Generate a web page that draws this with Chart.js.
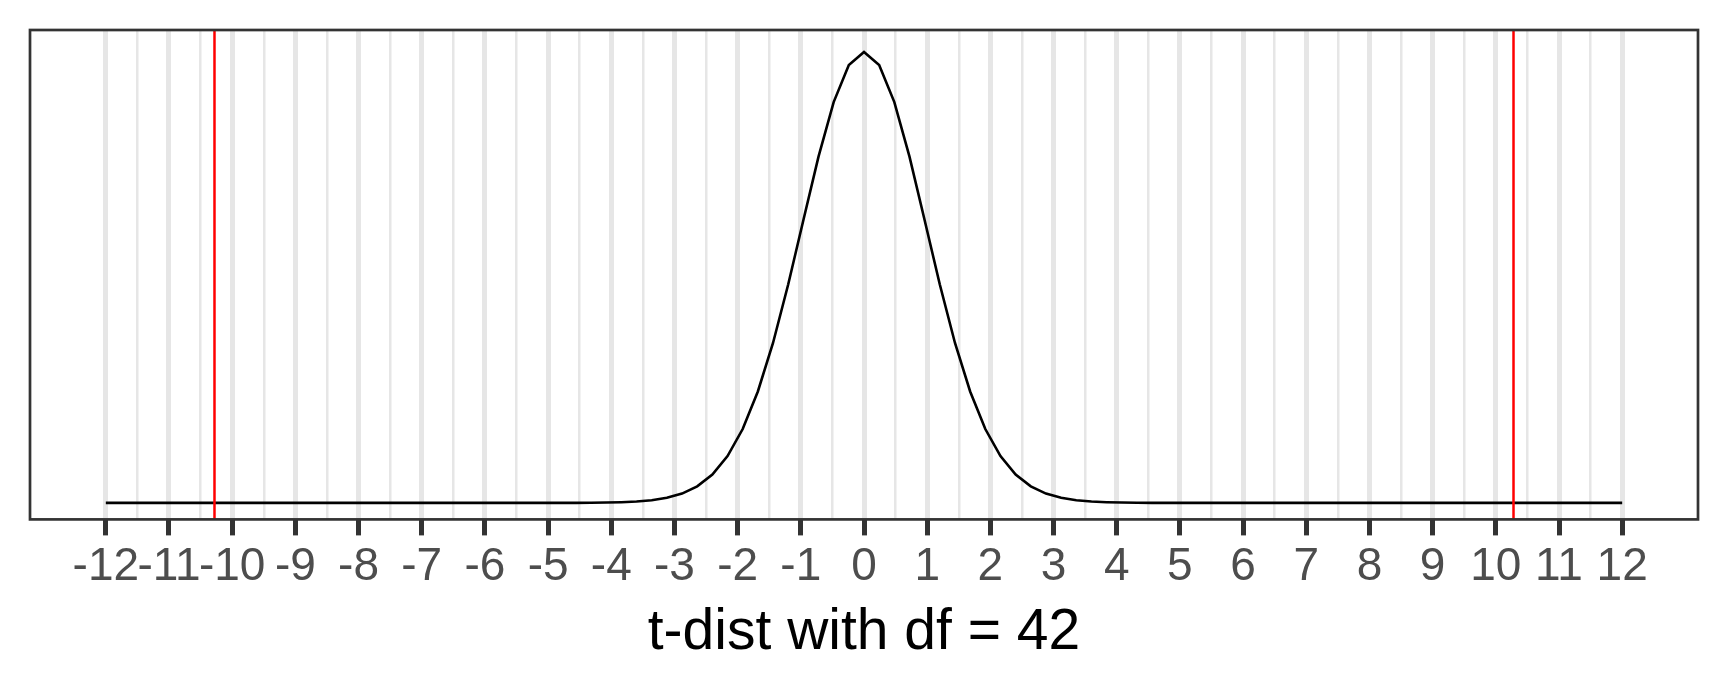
<!DOCTYPE html>
<html>
<head>
<meta charset="utf-8">
<script src="https://cdn.jsdelivr.net/npm/chart.js@4.4.1/dist/chart.umd.min.js"></script>
<style>
  body { margin: 0; background: #fff; }
</style>
</head>
<body>
<canvas id="t-chart" width="1728" height="691"></canvas>
<script>
// x positions of the density curve (101 points, -12..12)
var xValues = [
  -12, -11.76, -11.52, -11.28, -11.04, -10.8, -10.56, -10.32, -10.08, -9.84,
  -9.6, -9.36, -9.12, -8.88, -8.64, -8.4, -8.16, -7.92, -7.68, -7.44,
  -7.2, -6.96, -6.72, -6.48, -6.24, -6, -5.76, -5.52, -5.28, -5.04,
  -4.8, -4.56, -4.32, -4.08, -3.84, -3.6, -3.36, -3.12, -2.88, -2.64,
  -2.4, -2.16, -1.92, -1.68, -1.44, -1.2, -0.96, -0.72, -0.48, -0.24,
  0,
  0.24, 0.48, 0.72, 0.96, 1.2, 1.44, 1.68, 1.92, 2.16, 2.4,
  2.64, 2.88, 3.12, 3.36, 3.6, 3.84, 4.08, 4.32, 4.56, 4.8,
  5.04, 5.28, 5.52, 5.76, 6, 6.24, 6.48, 6.72, 6.96, 7.2,
  7.44, 7.68, 7.92, 8.16, 8.4, 8.64, 8.88, 9.12, 9.36, 9.6,
  9.84, 10.08, 10.32, 10.56, 10.8, 11.04, 11.28, 11.52, 11.76, 12
];

// density
var density = [
  0, 0, 0, 0, 0, 0, 0, 0, 0, 0,
  0, 0, 0, 0, 0, 0, 0, 0, 0, 0,
  0, 0, 0, 0, 0.0000003, 0.0000007, 0.0000015, 0.0000032, 0.000007, 0.0000152,
  0.0000327, 0.0000697, 0.000146, 0.000303, 0.000615, 0.00122, 0.00237, 0.00449, 0.00823, 0.0146,
  0.0250, 0.0412, 0.0650, 0.0980, 0.1407, 0.1921, 0.2487, 0.3046, 0.3526, 0.3851,
  0.3966,
  0.3851, 0.3526, 0.3046, 0.2487, 0.1921, 0.1407, 0.0980, 0.0650, 0.0412, 0.0250,
  0.0146, 0.00823, 0.00449, 0.00237, 0.00122, 0.000615, 0.000303, 0.000146, 0.0000697, 0.0000327,
  0.0000152, 0.000007, 0.0000032, 0.0000015, 0.0000007, 0.0000003, 0, 0, 0, 0,
  0, 0, 0, 0, 0, 0, 0, 0, 0, 0,
  0, 0, 0, 0, 0, 0, 0, 0, 0, 0
];

// red cut-off lines
var critValues = [-10.28, 10.28];

// axis ticks
var majorTicks = [-12, -11, -10, -9, -8, -7, -6, -5, -4, -3, -2, -1, 0, 1, 2, 3, 4, 5, 6, 7, 8, 9, 10, 11, 12];
var minorTicks = [-11.5, -10.5, -9.5, -8.5, -7.5, -6.5, -5.5, -4.5, -3.5, -2.5, -1.5, -0.5,
                  0.5, 1.5, 2.5, 3.5, 4.5, 5.5, 6.5, 7.5, 8.5, 9.5, 10.5, 11.5];

var xMin = -13.2, xMax = 13.2;
var yMin = -0.0145, yMax = 0.416;

var curvePoints = xValues.map(function (x, i) { return { x: x, y: density[i] }; });

var datasets = critValues.map(function (v) {
  return {
    data: [{ x: v, y: yMin }, { x: v, y: yMax }],
    borderColor: '#FF0000',
    borderWidth: 2.5,
    pointRadius: 0,
    order: 0
  };
});
datasets.push({
  data: curvePoints,
  borderColor: '#000000',
  borderWidth: 2.6,
  pointRadius: 0,
  tension: 0,
  order: 1
});

function isMajor(v) { return majorTicks.indexOf(v) !== -1; }

// panel border drawn on top
var panelBorder = {
  id: 'panelBorder',
  afterDraw: function (chart) {
    var a = chart.chartArea, c = chart.ctx;
    c.save();
    c.strokeStyle = '#333333';
    c.lineWidth = 2.7;
    c.strokeRect(a.left, a.top, a.right - a.left, a.bottom - a.top);
    c.restore();
  }
};

var ctx = document.getElementById('t-chart').getContext('2d');
var tChart = new Chart(ctx, {
  type: 'line',
  data: { datasets: datasets },
  options: {
    responsive: false,
    animation: false,
    layout: { padding: { left: 30, right: 30, top: 30, bottom: 14 } },
    plugins: {
      legend: { display: false },
      tooltip: { enabled: false }
    },
    scales: {
      x: {
        type: 'linear',
        min: xMin,
        max: xMax,
        afterBuildTicks: function (scale) {
          scale.ticks = majorTicks.concat(minorTicks)
            .sort(function (a, b) { return a - b; })
            .map(function (v) { return { value: v }; });
        },
        border: { display: false },
        grid: {
          color: '#E6E6E6',
          lineWidth: function (c) { return isMajor(c.tick.value) ? 5 : 2.5; },
          tickColor: function (c) { return isMajor(c.tick.value) ? '#333333' : 'rgba(0,0,0,0)'; },
          tickWidth: 5,
          tickLength: 16
        },
        ticks: {
          autoSkip: false,
          maxRotation: 0,
          padding: 4,
          color: '#4D4D4D',
          font: { family: '"Liberation Sans", Arial, sans-serif', size: 46 },
          callback: function (v) { return isMajor(v) ? String(v) : ''; }
        },
        title: {
          display: true,
          text: 't-dist with df = 42',
          color: '#000000',
          font: { family: '"Liberation Sans", Arial, sans-serif', size: 57 },
          padding: { top: 0, bottom: 10 }
        }
      },
      y: {
        type: 'linear',
        display: false,
        min: yMin,
        max: yMax
      }
    }
  },
  plugins: [panelBorder]
});
</script>
</body>
</html>
